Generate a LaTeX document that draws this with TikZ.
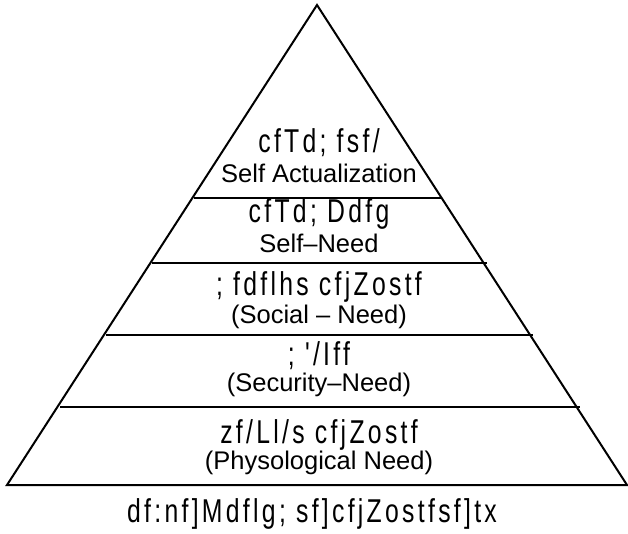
\documentclass[tikz,border=0pt]{standalone}
\usepackage{fontspec}
\setmainfont{Liberation Sans}
\newfontfamily\preeti[FakeStretch=0.75,LetterSpace=10]{Liberation Sans}
\begin{document}
\begin{tikzpicture}[x=1pt,y=-1pt,
  edge/.style={line width=2pt, line join=miter},
  lvl/.style={line width=2pt},
  np/.style={font=\preeti\fontsize{33}{35}\selectfont, anchor=base, inner sep=0pt},
  en/.style={font=\fontsize{25.5}{28}\selectfont, anchor=base, inner sep=0pt}]
\useasboundingbox (0,0) rectangle (628,534);
\coordinate (apex) at (317,5);
\coordinate (bl) at (7,485);
\coordinate (br) at (627,485);
\draw[edge] (bl) -- (apex) -- (br) -- cycle;
% level lines
\coordinate (l1a) at (194,198); \coordinate (l1b) at (442,198);
\coordinate (l2a) at (152,263); \coordinate (l2b) at (487,263);
\coordinate (l3a) at (106,335); \coordinate (l3b) at (533,335);
\coordinate (l4a) at (60,407);  \coordinate (l4b) at (580,407);
\draw[lvl] (l1a) -- (l1b);
\draw[lvl] (l2a) -- (l2b);
\draw[lvl] (l3a) -- (l3b);
\draw[lvl] (l4a) -- (l4b);
% texts
\node[np] (t1) at (319,153) {cfTd; fsf/};
\node[en] (e1) at (319,183) {Self Actualization};
\node[np] (t2) at (319,223) {cfTd; Ddfg};
\node[en] (e2) at (319,253) {Self--Need};
\node[np] (t3) at (319,295) {; fdflhs cfjZostf};
\node[en] (e3) at (319,323) {(Social -- Need)};
\node[np] (t4) at (319,365) {; '/Iff};
\node[en] (e4) at (319,391) {(Security--Need)};
\node[np] (t5) at (319,443) {zf/Ll/s cfjZostf};
\node[en] (e5) at (319,469) {(Physological Need)};
\node[np] (t6) at (312,522) {df:nf]Mdflg; sf]cfjZostfsf]tx};
\end{tikzpicture}
\end{document}
